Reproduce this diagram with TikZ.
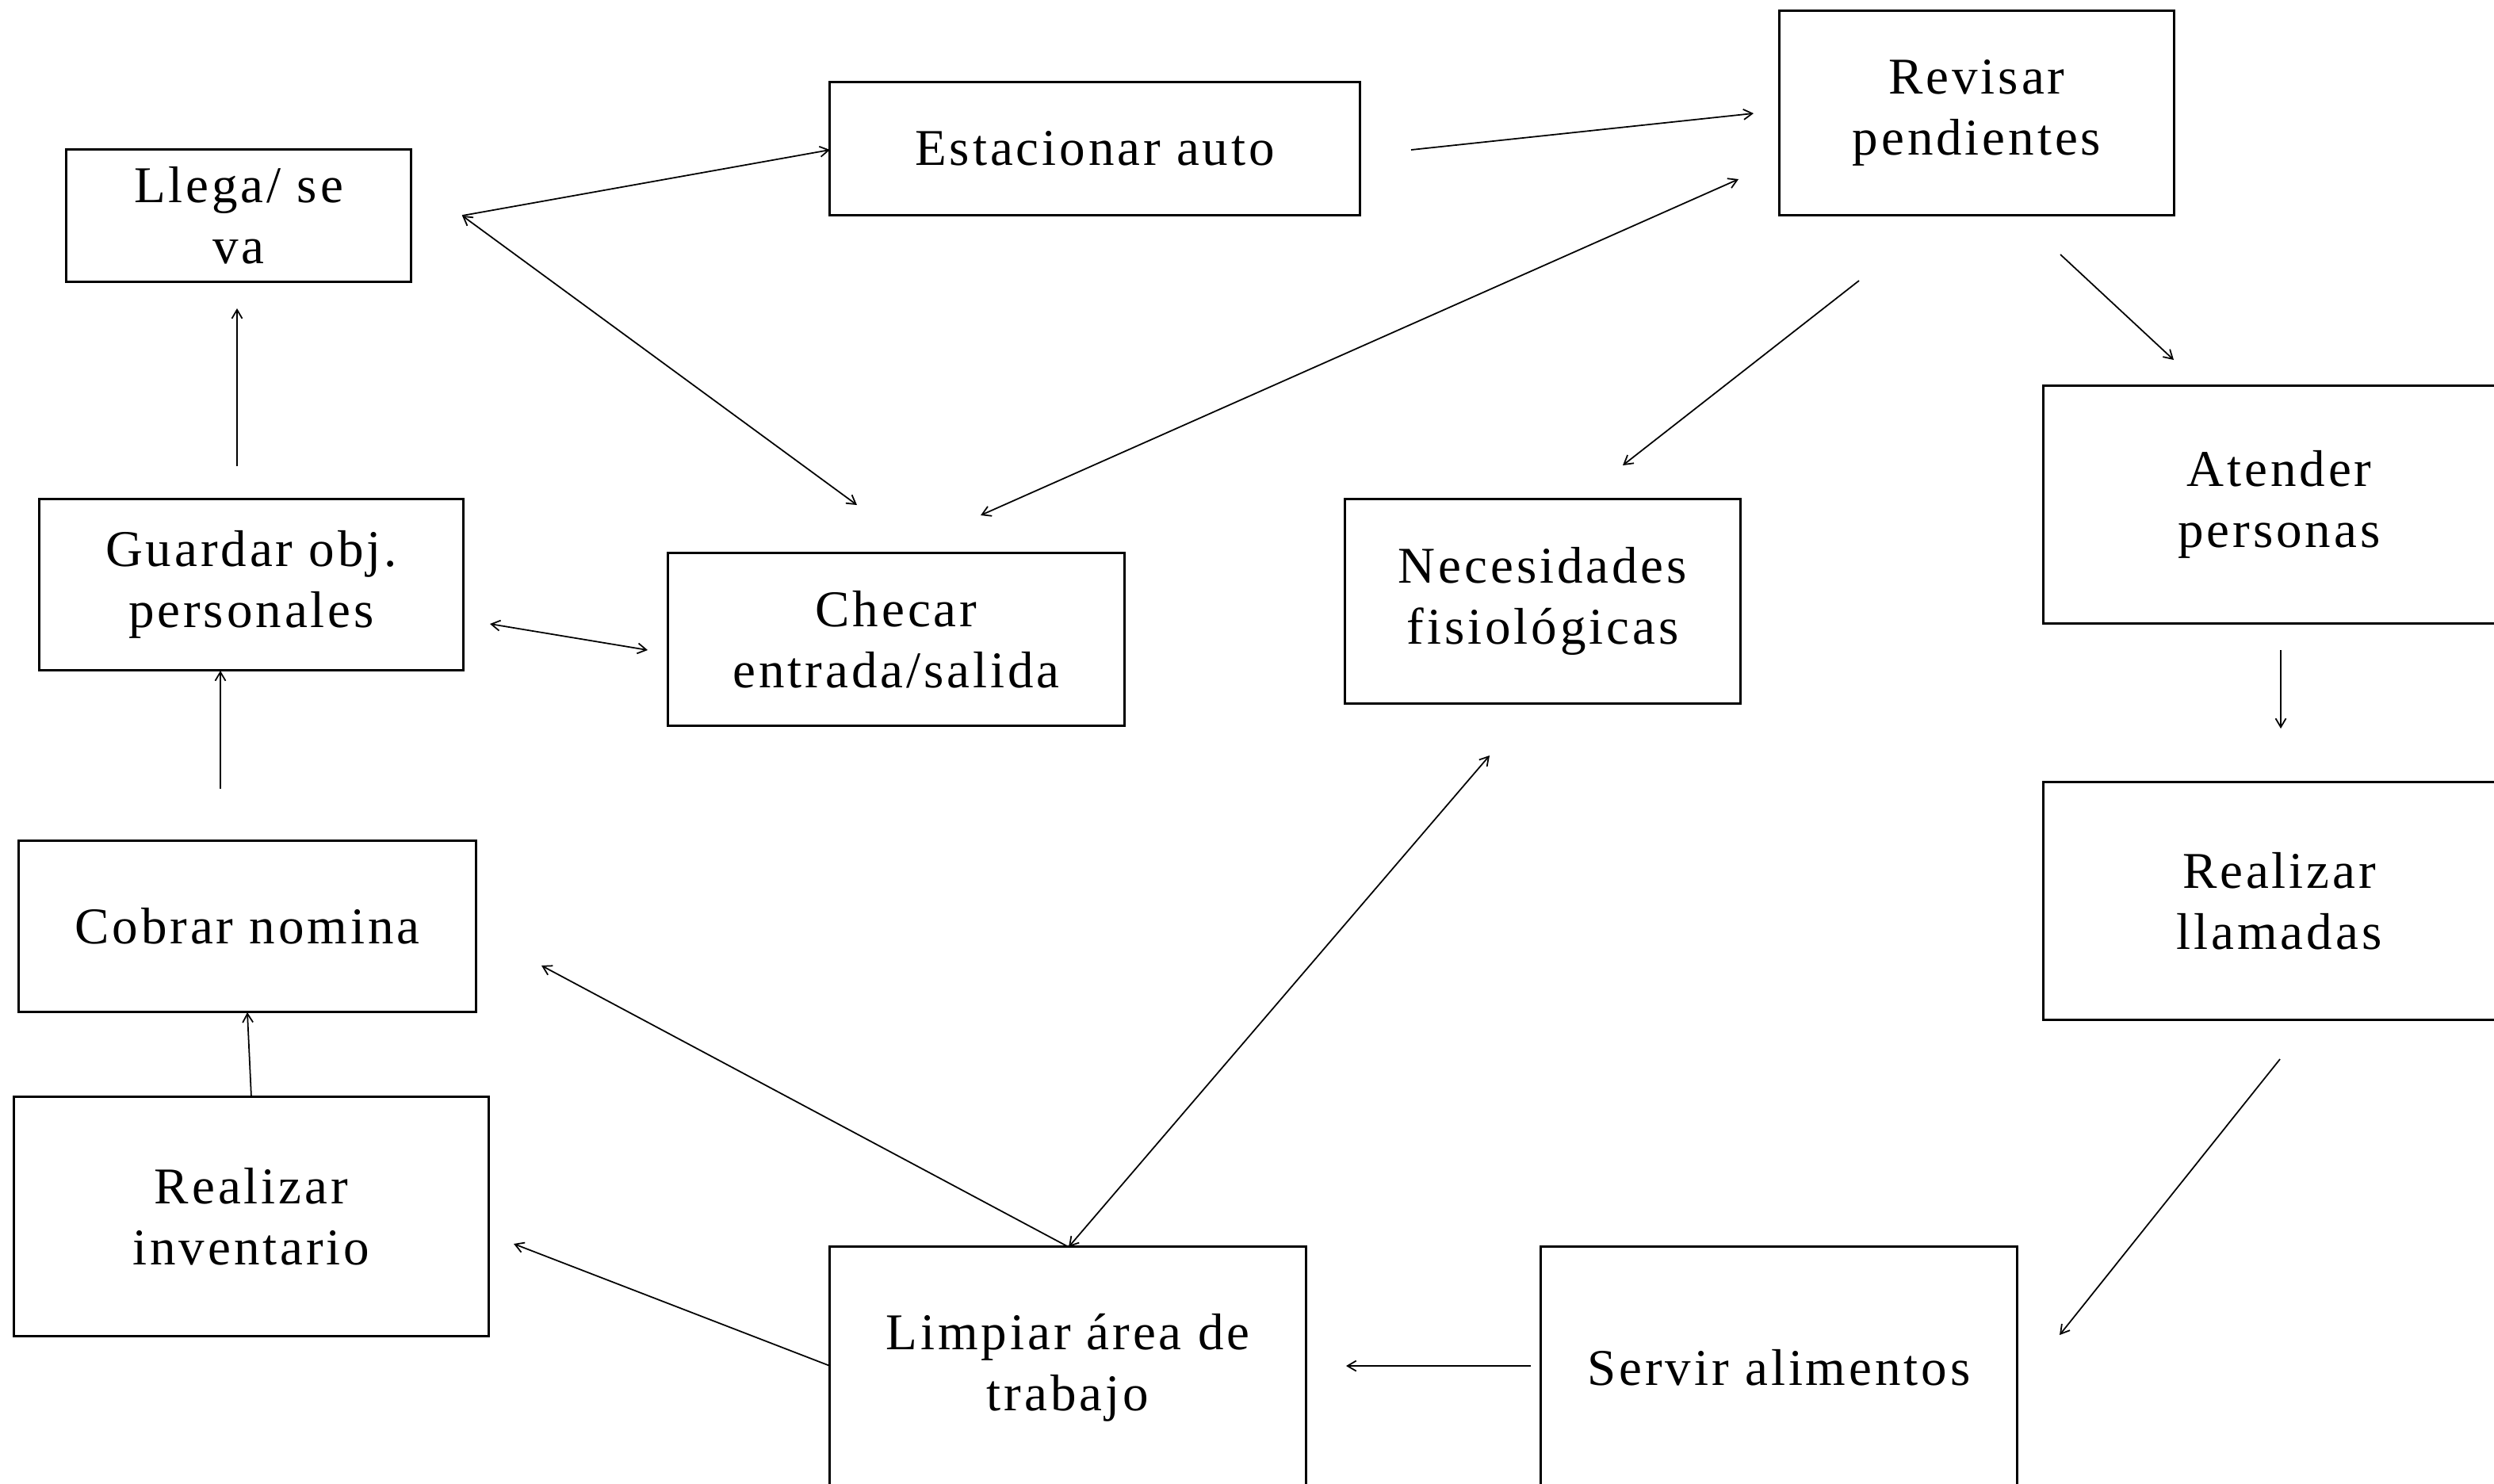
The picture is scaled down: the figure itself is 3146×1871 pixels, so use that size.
\documentclass[tikz,border=0pt]{standalone}
\usepackage{fontspec}
\setmainfont{Liberation Serif}[LetterSpace=6]
\usetikzlibrary{arrows.meta}
\begin{document}
\begin{tikzpicture}[x=0.01cm,y=-0.01cm,
  box/.style={draw, line width=0.85pt, align=center, inner sep=0pt,
    font=\fontsize{18.5}{22}\selectfont},
  tip/.tip={Straight Barb[length=1.1mm,width=1.3mm]},
  arr/.style={line width=0.5pt, -tip},
  darr/.style={line width=0.5pt, tip-tip}]
\clip (0,0) rectangle (3146,1871);
\fill[white] (0,0) rectangle (3146,1871);
% boxes
\node[box, minimum width=4.34cm, minimum height=1.66cm] (llega) at (301,272) {Llega/ se\\va};
\node[box, minimum width=6.68cm, minimum height=1.67cm] (estac) at (1381,187.5) {Estacionar auto};
\node[box, minimum width=4.97cm, minimum height=2.57cm] (revisar) at (2493.5,142.5) {Revisar\\pendientes};
\node[box, minimum width=5.94cm, minimum height=2.99cm] (atender) at (2875,636.5) {Atender\\personas};
\node[box, minimum width=5.94cm, minimum height=2.99cm] (llamadas) at (2875,1136.5) {Realizar\\llamadas};
\node[box, minimum width=4.98cm, minimum height=2.57cm] (necesidades) at (1946,758.5) {Necesidades\\fisiológicas};
\node[box, minimum width=5.75cm, minimum height=2.17cm] (checar) at (1130.5,806.5) {Checar\\entrada/salida};
\node[box, minimum width=5.34cm, minimum height=2.15cm] (guardar) at (317,737.5) {Guardar obj.\\personales};
\node[box, minimum width=5.76cm, minimum height=2.15cm] (cobrar) at (312,1168.5) {Cobrar nomina};
\node[box, minimum width=5.98cm, minimum height=3.01cm] (inventario) at (317,1534.5) {Realizar\\inventario};
\node[box, minimum width=6.00cm, minimum height=3.04cm] (limpiar) at (1347,1725) {Limpiar área de\\trabajo};
\node[box, minimum width=6.00cm, minimum height=3.04cm] (servir) at (2244,1725) {Servir alimentos};
% connector end points
\coordinate (llegaR) at (583,272);
\coordinate (checarTL) at (1081,637);
\coordinate (estacL) at (1047,189);
\coordinate (estacR) at (1780,189);
\coordinate (revisarL) at (2212,143);
\coordinate (revisarLB) at (2193,226);
\coordinate (checarTR) at (1237,650);
\coordinate (revisarB1) at (2345,354);
\coordinate (necesT) at (2047,587);
\coordinate (revisarB2) at (2599,321);
\coordinate (atenderT) at (2742,454);
\coordinate (atenderB) at (2877,820);
\coordinate (llamadasT) at (2877,919);
\coordinate (llamadasB) at (2876,1336);
\coordinate (servirR) at (2598,1684);
\coordinate (servirL) at (1931,1723);
\coordinate (limpiarR) at (1698,1723);
\coordinate (necesB) at (1879,953);
\coordinate (limpiarT) at (1348,1573);
\coordinate (cobrarR) at (683,1218);
\coordinate (limpiarL) at (1047,1723);
\coordinate (inventR) at (648,1569);
\coordinate (inventT) at (317,1384);
\coordinate (cobrarB) at (312,1277);
\coordinate (cobrarT) at (278,995);
\coordinate (guardarB) at (278,846);
\coordinate (guardarT) at (299,588);
\coordinate (llegaB) at (299,389);
\coordinate (guardarR) at (618,787);
\coordinate (checarL) at (817,820);
% connectors
\draw[darr] (llegaR) -- (checarTL);
\draw[arr] (llegaR) -- (estacL);
\draw[arr] (estacR) -- (revisarL);
\draw[darr] (revisarLB) -- (checarTR);
\draw[arr] (revisarB1) -- (necesT);
\draw[arr] (revisarB2) -- (atenderT);
\draw[arr] (atenderB) -- (llamadasT);
\draw[arr] (llamadasB) -- (servirR);
\draw[arr] (servirL) -- (limpiarR);
\draw[darr] (necesB) -- (limpiarT);
\draw[arr] (limpiarT) -- (cobrarR);
\draw[arr] (limpiarL) -- (inventR);
\draw[arr] (inventT) -- (cobrarB);
\draw[arr] (cobrarT) -- (guardarB);
\draw[arr] (guardarT) -- (llegaB);
\draw[darr] (guardarR) -- (checarL);
\end{tikzpicture}
\end{document}
